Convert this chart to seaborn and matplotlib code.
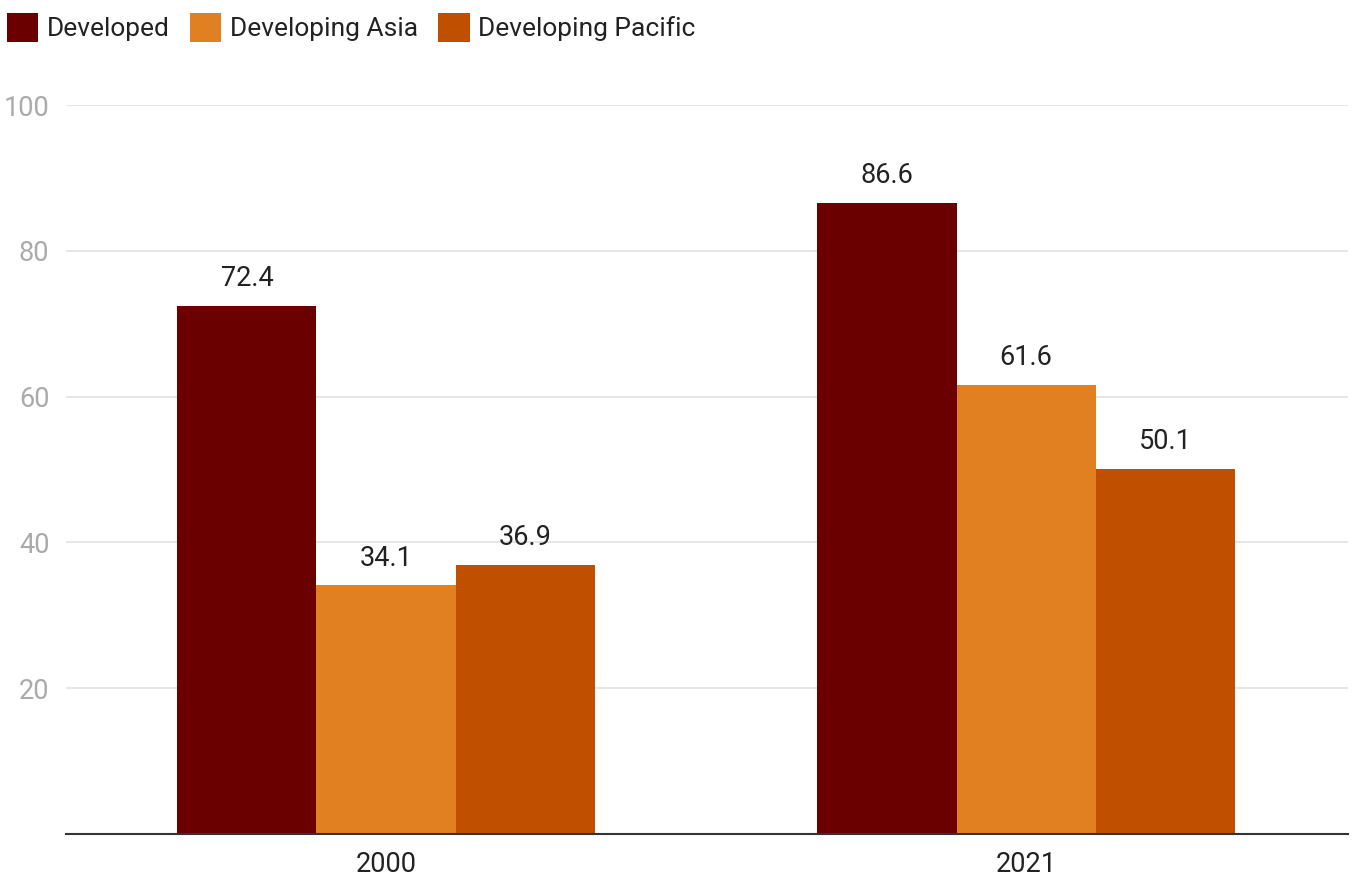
import pandas as pd
import matplotlib
matplotlib.use("Agg")
import matplotlib.pyplot as plt
import seaborn as sns
from matplotlib.patches import Patch

# Chart data
years = ["2000", "2021"]
groups = ["Developed", "Developing Asia", "Developing Pacific"]
developed = [72.4, 86.6]
developing_asia = [34.1, 61.6]
developing_pacific = [36.9, 50.1]
colors = ["#6b0000", "#e08020", "#c05000"]

# Build long-form table for seaborn
df = pd.DataFrame({
    "year": years * 3,
    "group": [g for g in groups for _ in years],
    "value": developed + developing_asia + developing_pacific,
})

sns.set_style("white")
plt.rcParams["font.family"] = ["Roboto", "DejaVu Sans"]

fs = 19.5
fig = plt.figure(figsize=(13.52, 8.76), dpi=100)
ax = fig.add_axes([66 / 1352, 1 - 834 / 876, (1348 - 66) / 1352, (834 - 105) / 876])

sns.barplot(data=df, x="year", y="value", hue="group", hue_order=groups,
            palette=colors, width=0.652, gap=0, saturation=1, linewidth=0,
            ax=ax, legend=False)

# Value labels on top of the bars
for cont in ax.containers:
    ax.bar_label(cont, fmt="%.1f", padding=10, fontsize=fs, color="#222222")

ax.set_xlim(-0.5, 1.503)
ax.set_ylim(0, 100)
ax.set_yticks([20, 40, 60, 80, 100])
ax.yaxis.grid(True, color="#e4e4e4", linewidth=1.3)
ax.set_axisbelow(True)
ax.set_xlabel("")
ax.set_ylabel("")
for side in ["top", "right", "left"]:
    ax.spines[side].set_visible(False)
ax.spines["bottom"].set_color("#333333")
ax.spines["bottom"].set_linewidth(1.5)
ax.tick_params(axis="y", length=0, pad=12, labelsize=fs, labelcolor="#aaaaaa")
ax.tick_params(axis="x", length=0, pad=12, labelsize=fs, labelcolor="#222222")

# Legend along the top
lfs = 19
handles = [Patch(facecolor=c, edgecolor="none", label=g) for g, c in zip(groups, colors)]
fig.legend(handles=handles, loc="upper left", bbox_to_anchor=(0.0, 0.993), ncol=3,
           frameon=False, fontsize=lfs, handlelength=1.2, handleheight=1.33,
           handletextpad=0.33, columnspacing=0.75, borderpad=0.25,
           borderaxespad=0.0, labelcolor="#222222")

fig.savefig("out.png", dpi=100)
